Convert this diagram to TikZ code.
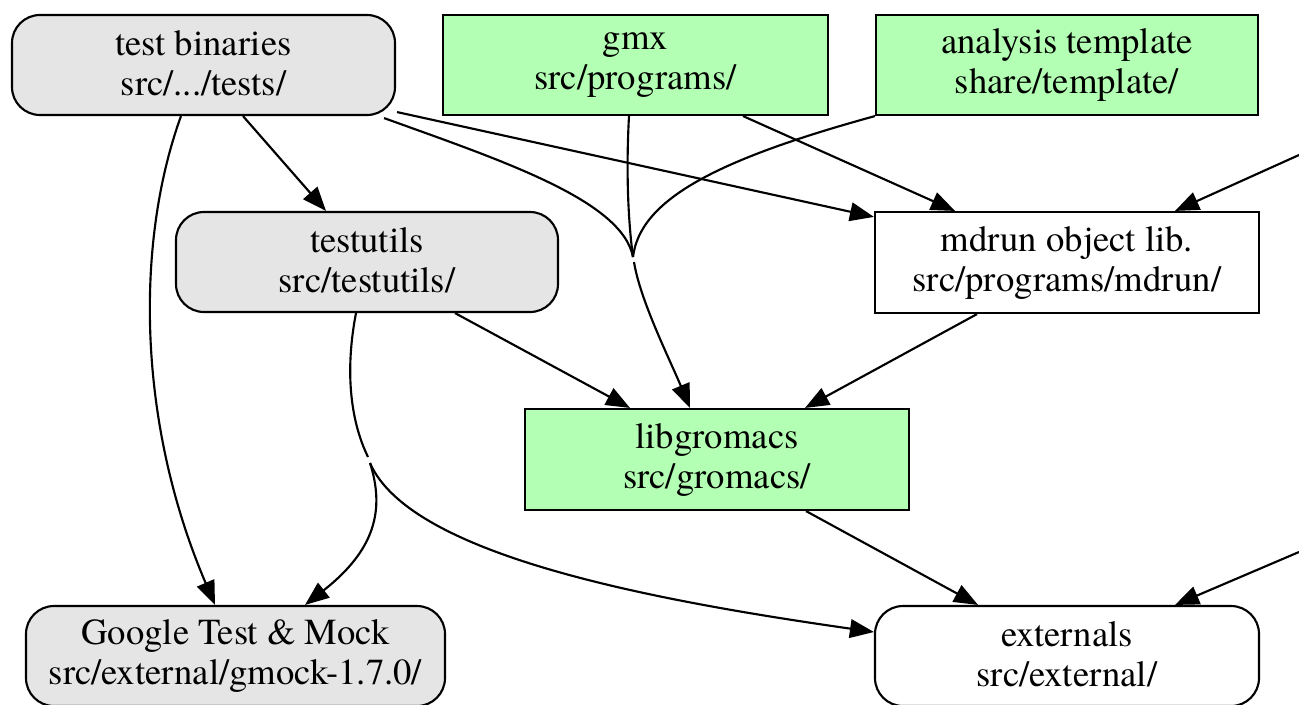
\documentclass[tikz,border=0pt]{standalone}
\usepackage{fontspec}
\setmainfont{texgyretermes-regular.otf}
\usetikzlibrary{arrows.meta,calc}
\definecolor{gfill}{HTML}{E5E5E5}
\definecolor{gfill2}{HTML}{B3FFB3}
\newcommand\gvstrut{\rule[-3pt]{0pt}{28pt}}
\begin{document}
\begin{tikzpicture}[x=0.75pt,y=-0.75pt,
  box/.style={draw, line width=1.6pt, inner sep=0pt, minimum height=75pt, align=center,
    font=\rmfamily\fontsize{27.5}{30}\selectfont,
    execute at begin node=\gvstrut, execute at end node=\gvstrut},
  grayr/.style={box, rounded corners=21pt, fill=gfill},
  greenb/.style={box, fill=gfill2},
  whiteb/.style={box, fill=white},
  whiter/.style={box, rounded corners=21pt, fill=white},
  conn/.style={line width=1.6pt},
  conna/.style={conn, -{Triangle[length=18pt,width=14pt]}},
]
\useasboundingbox (0,0) rectangle (1299,704);
\clip (0,0) rectangle (1299,704);

% nodes
\node[grayr, minimum width=383*0.75pt] (tb) at (203.5,65) {test binaries\\src/.../tests/};
\node[greenb, minimum width=385*0.75pt] (gm) at (635.5,65) {gmx\\src/programs/};
\node[greenb, minimum width=382*0.75pt] (at) at (1067,65) {analysis template\\share/template/};
\node[grayr, minimum width=382*0.75pt] (tu) at (367,262) {testutils\\src/testutils/};
\node[whiteb, minimum width=384*0.75pt, minimum height=101*0.75pt] (md) at (1067,262.5) {mdrun object lib.\\src/programs/mdrun/};
\node[greenb, minimum width=384*0.75pt, minimum height=101*0.75pt] (lb) at (717,459.5) {libgromacs\\src/gromacs/};
\node[grayr, minimum width=419*0.75pt] (gt) at (235.5,656) {Google Test \& Mock\\src/external/gmock-1.7.0/};
\node[whiter, minimum width=384*0.75pt] (ex) at (1067,656) {externals\\src/external/};

% junction points and free ends
\coordinate (m1) at (633,257);
\coordinate (m2) at (634,262);
\coordinate (s1) at (368,457);
\coordinate (s2) at (370,463);
\coordinate (r1) at (1299,155);
\coordinate (r2) at (1299,552);

% edges
\draw[conna] ($(tb.south)+(39.5,0)$) -- ($(tu.north)+(-41,0)$);
\draw[conna] ($(tb.south)+(-22.5,0)$) .. controls (136,240) and (136,420) .. ($(gt.north)+(-20.5,0)$);
\draw[conna] ($(tb.south east)+(1,-4)$) -- ($(md.north west)+(0,6)$);
\draw[conn] ($(tb.south east)+(-12,2)$) .. controls (500,160) and (622,200) .. (m1);
\draw[conn] ($(gm.south)+(-6.5,0)$) .. controls (626,170) and (628,220) .. (m1);
\draw[conn] (at.south west) .. controls (715,160) and (640,200) .. (m1);
\draw[conna] (m2) .. controls (640,300) and (670,360) .. ($(lb.north)+(-27,0)$);
\draw[conna] ($(gm.south)+(107.5,0)$) -- ($(md.north)+(-112,0)$);
\draw[conna] ($(tu.south)+(88,0)$) -- ($(lb.north)+(-87,0)$);
\draw[conna] ($(md.south)+(-90,0)$) -- ($(lb.north)+(88,0)$);
\draw[conn] ($(tu.south)+(-11,0)$) .. controls (345,370) and (350,420) .. (s1);
\draw[conna] (s2) .. controls (385,510) and (375,550) .. ($(gt.north)+(69.5,0)$);
\draw[conna] (s2) .. controls (410,555) and (650,600) .. ($(ex.west)+(0,-24)$);
\draw[conna] ($(lb.south)+(89,0)$) -- ($(ex.north)+(-89,0)$);
\draw[conna] (r1) -- ($(md.north)+(108,0)$);
\draw[conna] (r2) -- ($(ex.north)+(108,0)$);
\end{tikzpicture}
\end{document}
